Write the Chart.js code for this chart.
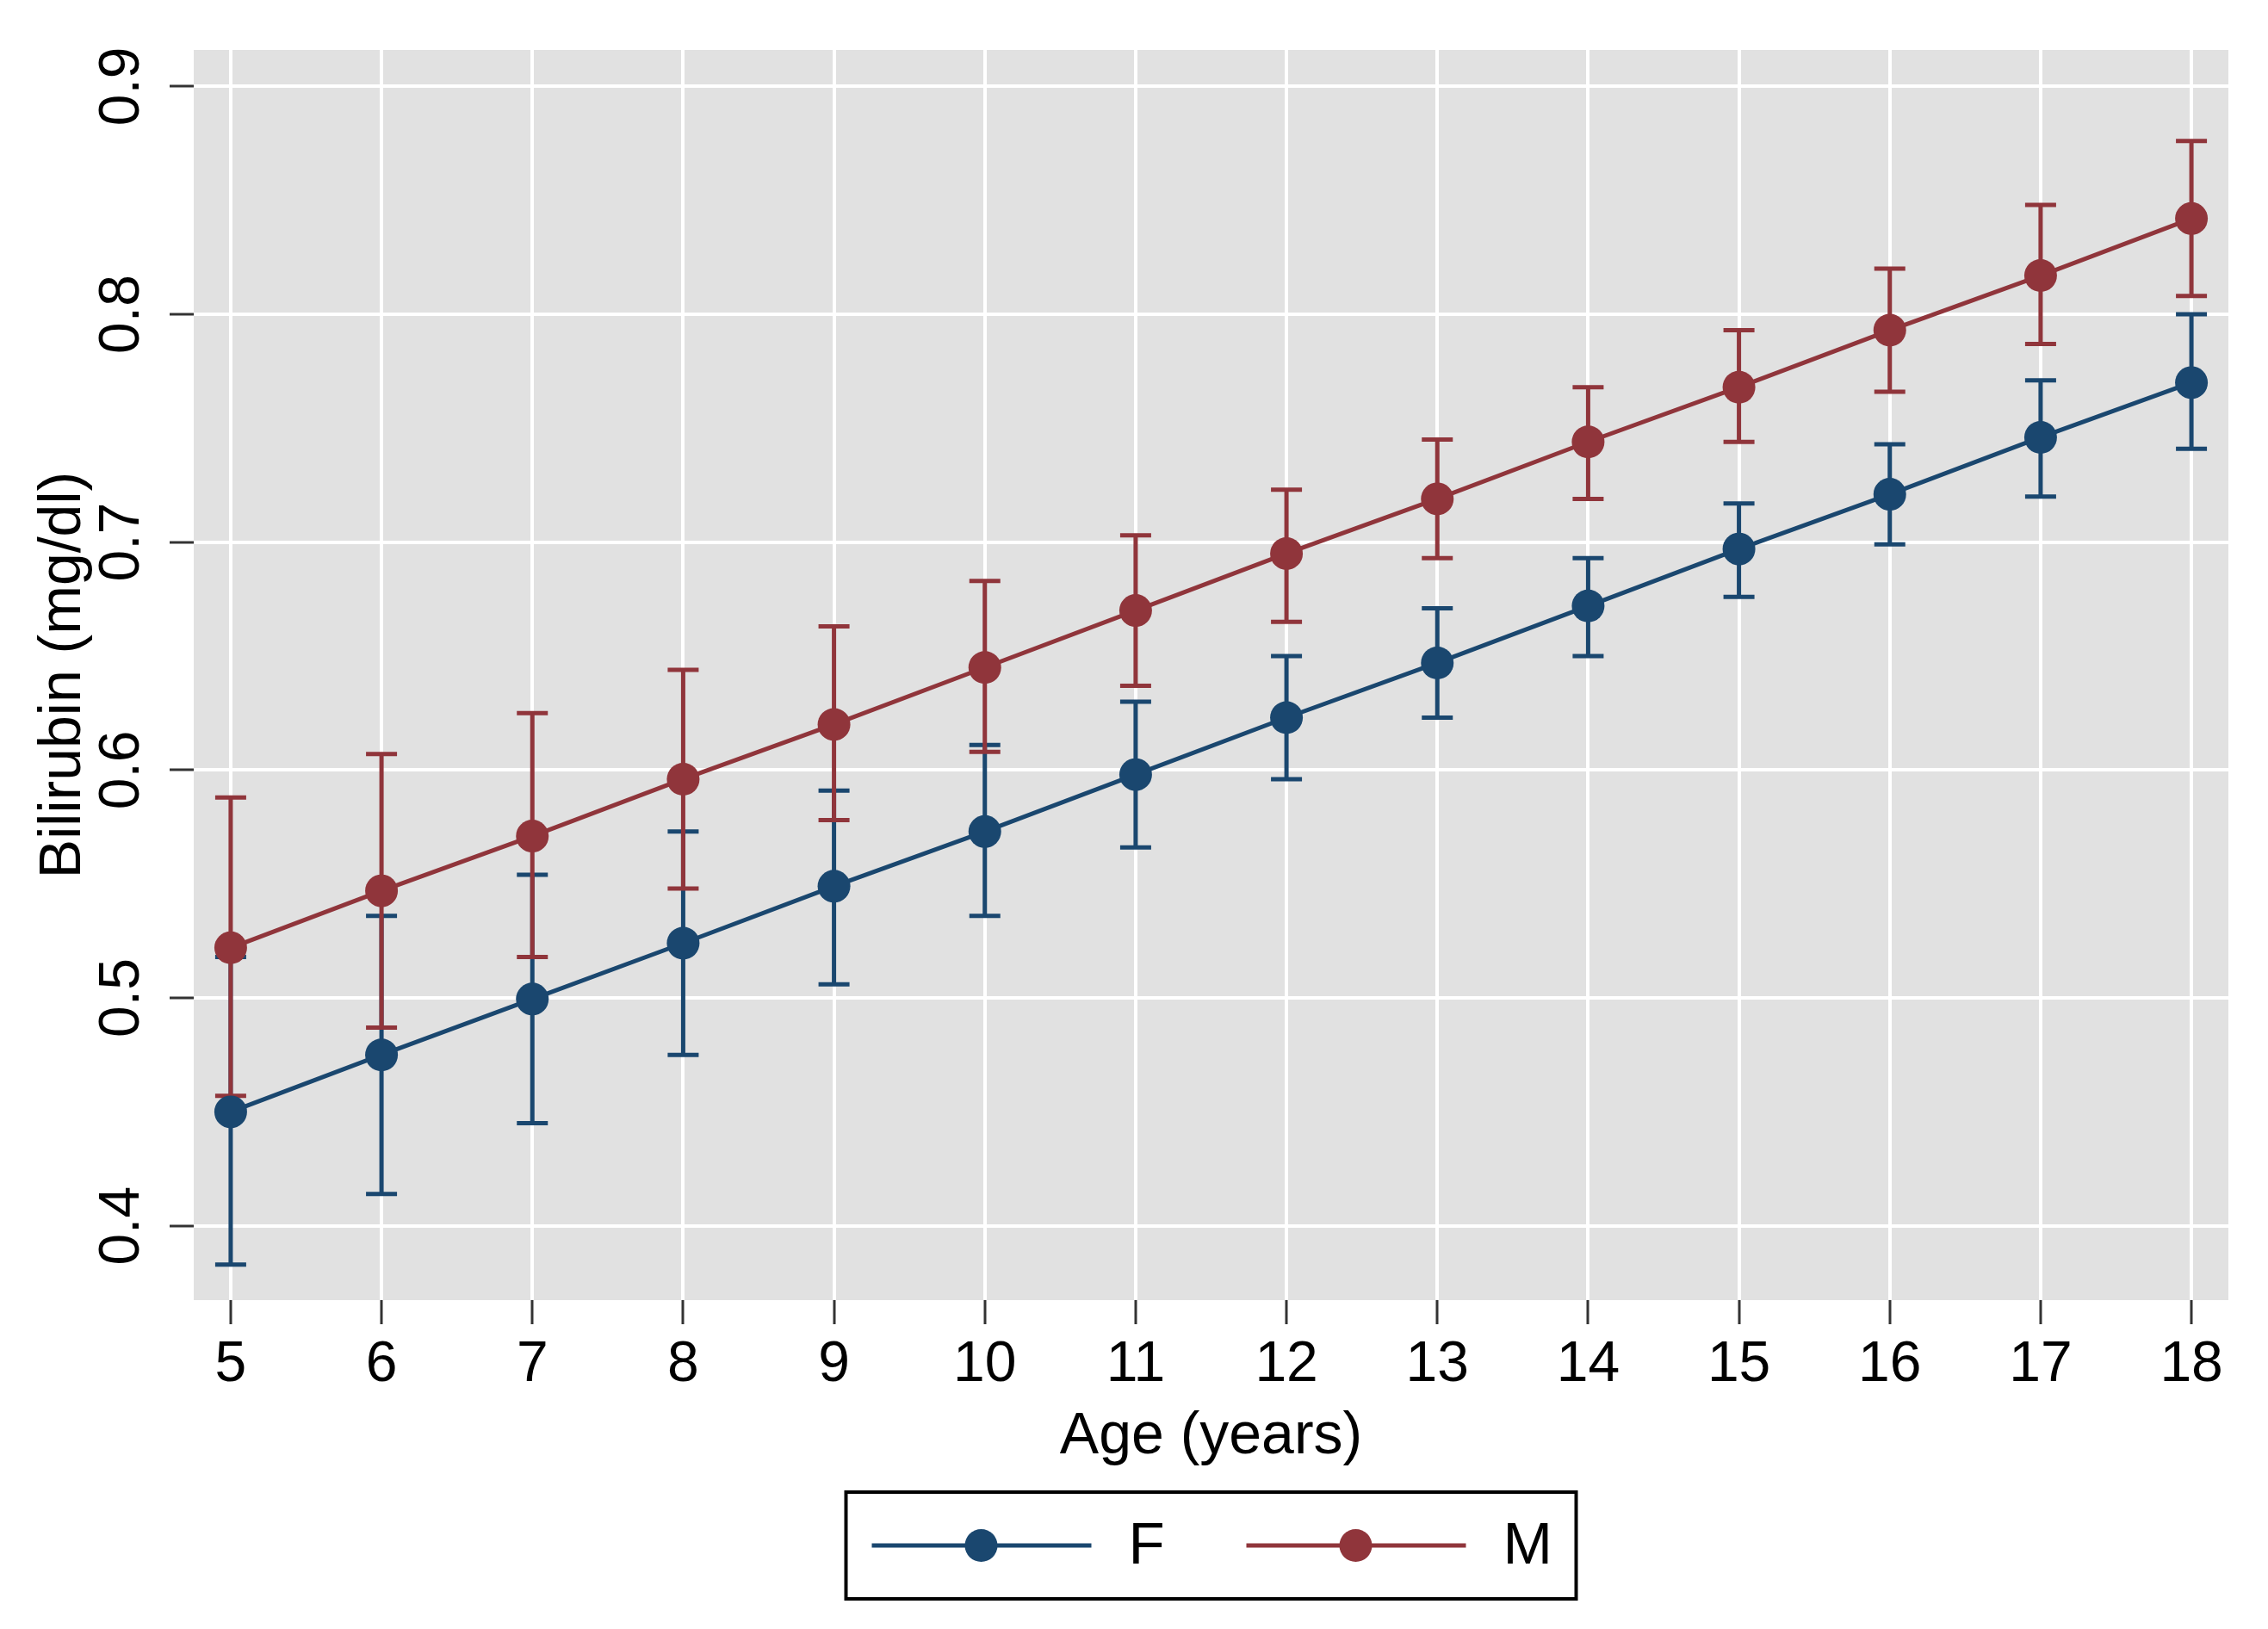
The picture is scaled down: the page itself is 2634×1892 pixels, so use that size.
<!DOCTYPE html>
<html>
<head>
<meta charset="utf-8">
<script src="https://cdn.jsdelivr.net/npm/chart.js@4.4.1/dist/chart.umd.min.js"></script>
<style>
  html, body { margin: 0; padding: 0; background: #fff; }
  canvas { display: block; }
</style>
</head>
<body>
<canvas id="biliChart" width="2634" height="1892"></canvas>
<script>
// Ages on the x axis
const ages = [5, 6, 7, 8, 9, 10, 11, 12, 13, 14, 15, 16, 17, 18];

// Female (F) predicted bilirubin and its interval
const femaleMean = [0.450, 0.475, 0.4995, 0.524, 0.549, 0.573, 0.598, 0.623, 0.647, 0.672, 0.697, 0.721, 0.746, 0.770];
const femaleLow  = [0.383, 0.414, 0.445, 0.475, 0.506, 0.536, 0.566, 0.596, 0.623, 0.650, 0.676, 0.699, 0.720, 0.741];
const femaleHigh = [0.518, 0.536, 0.554, 0.573, 0.591, 0.611, 0.630, 0.650, 0.671, 0.693, 0.717, 0.743, 0.771, 0.800];

// Male (M) predicted bilirubin and its interval
const maleMean = [0.522, 0.547, 0.571, 0.596, 0.620, 0.645, 0.670, 0.695, 0.719, 0.744, 0.768, 0.793, 0.817, 0.842];
const maleLow  = [0.457, 0.487, 0.518, 0.548, 0.578, 0.608, 0.637, 0.665, 0.693, 0.719, 0.744, 0.766, 0.787, 0.808];
const maleHigh = [0.588, 0.607, 0.625, 0.644, 0.663, 0.683, 0.703, 0.723, 0.745, 0.768, 0.793, 0.820, 0.848, 0.876];

const yTickValues = [0.4, 0.5, 0.6, 0.7, 0.8, 0.9];
const seriesNames = ['F', 'M'];
const seriesColors = ['#1a476f', '#90353b'];

const FONT = "'Liberation Sans', Arial, Helvetica, sans-serif";
Chart.defaults.font.family = FONT;
Chart.defaults.color = '#000';

// grey plot region behind the grid
const plotBackground = {
    id: 'plotBackground',
    beforeDraw(chart) {
        const {ctx, chartArea} = chart;
        ctx.save();
        ctx.fillStyle = '#e1e1e1';
        ctx.fillRect(chartArea.left, chartArea.top, chartArea.right - chartArea.left, chartArea.bottom - chartArea.top);
        ctx.restore();
    }
};

// capped error bars, drawn under the lines and markers
const errorBars = {
    id: 'errorBars',
    beforeDatasetsDraw(chart) {
        const {ctx, scales: {x, y}} = chart;
        const capHalf = 18;
        chart.data.datasets.forEach(ds => {
            ctx.save();
            ctx.strokeStyle = ds.borderColor;
            ctx.lineWidth = 5;
            ds.errLow.forEach((lo, i) => {
                const px = x.getPixelForValue(ages[i]);
                const yLo = y.getPixelForValue(lo);
                const yHi = y.getPixelForValue(ds.errHigh[i]);
                ctx.beginPath();
                ctx.moveTo(px, yLo);
                ctx.lineTo(px, yHi);
                ctx.moveTo(px - capHalf, yLo);
                ctx.lineTo(px + capHalf, yLo);
                ctx.moveTo(px - capHalf, yHi);
                ctx.lineTo(px + capHalf, yHi);
                ctx.stroke();
            });
            ctx.restore();
        });
    }
};

// boxed legend under the x axis title
const boxedLegend = {
    id: 'boxedLegend',
    afterDraw(chart) {
        const {ctx, chartArea} = chart;
        const cx = (chartArea.left + chartArea.right) / 2;
        const left = cx - 424, right = cx + 424;
        const top = chart.height - 159, bottom = chart.height - 35;
        const midY = (top + bottom) / 2;
        ctx.save();
        ctx.strokeStyle = '#000';
        ctx.lineWidth = 4;
        ctx.strokeRect(left, top, right - left, bottom - top);
        ctx.font = '69px ' + FONT;
        ctx.textBaseline = 'middle';
        ctx.textAlign = 'left';
        seriesNames.forEach((name, i) => {
            const x0 = left + 30 + i * 435;
            ctx.strokeStyle = seriesColors[i];
            ctx.lineWidth = 5;
            ctx.beginPath();
            ctx.moveTo(x0, midY);
            ctx.lineTo(x0 + 255, midY);
            ctx.stroke();
            ctx.fillStyle = seriesColors[i];
            ctx.beginPath();
            ctx.arc(x0 + 127, midY, 19, 0, Math.PI * 2);
            ctx.fill();
            ctx.fillStyle = '#000';
            ctx.fillText(name, x0 + 298, midY + 2);
        });
        ctx.restore();
    }
};

const ctx = document.getElementById('biliChart').getContext('2d');
new Chart(ctx, {
    type: 'line',
    data: {
        datasets: [
            {
                label: seriesNames[0],
                data: ages.map((a, i) => ({x: a, y: femaleMean[i]})),
                errLow: femaleLow,
                errHigh: femaleHigh,
                borderColor: seriesColors[0],
                backgroundColor: seriesColors[0],
                borderWidth: 5,
                pointRadius: 19,
                pointBorderWidth: 0,
                tension: 0
            },
            {
                label: seriesNames[1],
                data: ages.map((a, i) => ({x: a, y: maleMean[i]})),
                errLow: maleLow,
                errHigh: maleHigh,
                borderColor: seriesColors[1],
                backgroundColor: seriesColors[1],
                borderWidth: 5,
                pointRadius: 19,
                pointBorderWidth: 0,
                tension: 0
            }
        ]
    },
    options: {
        responsive: false,
        devicePixelRatio: 1,
        animation: false,
        layout: { padding: { left: 0, right: 46, top: 58, bottom: 0 } },
        plugins: {
            legend: { display: false },
            tooltip: { enabled: false }
        },
        scales: {
            x: {
                type: 'linear',
                min: 4.755,
                max: 18.245,
                afterBuildTicks: scale => { scale.ticks = ages.map(v => ({value: v})); },
                afterFit: scale => { scale.height = 382; },
                border: { display: false },
                grid: {
                    color: '#ffffff',
                    lineWidth: 4,
                    tickColor: '#333',
                    tickWidth: 3,
                    tickLength: 28
                },
                ticks: {
                    autoSkip: false,
                    maxRotation: 0,
                    padding: 8,
                    color: '#000',
                    font: { size: 66 }
                },
                title: {
                    display: true,
                    text: 'Age (years)',
                    color: '#000',
                    font: { size: 68 },
                    padding: { top: 0, bottom: 182 }
                }
            },
            y: {
                type: 'linear',
                min: 0.3674,
                max: 0.916,
                afterBuildTicks: scale => { scale.ticks = yTickValues.map(v => ({value: v})); },
                afterFit: scale => { scale.width = 225; },
                border: { display: false },
                grid: {
                    color: '#ffffff',
                    lineWidth: 4,
                    tickColor: '#333',
                    tickWidth: 3,
                    tickLength: 28
                },
                ticks: {
                    minRotation: 90,
                    maxRotation: 90,
                    crossAlign: 'center',
                    padding: 8,
                    color: '#000',
                    font: { size: 66 },
                    callback: v => v.toFixed(1)
                },
                title: {
                    display: true,
                    text: 'Bilirubin (mg/dl)',
                    color: '#000',
                    font: { size: 68 },
                    padding: { top: 33, bottom: 0 }
                }
            }
        }
    },
    plugins: [plotBackground, errorBars, boxedLegend]
});
</script>
</body>
</html>
